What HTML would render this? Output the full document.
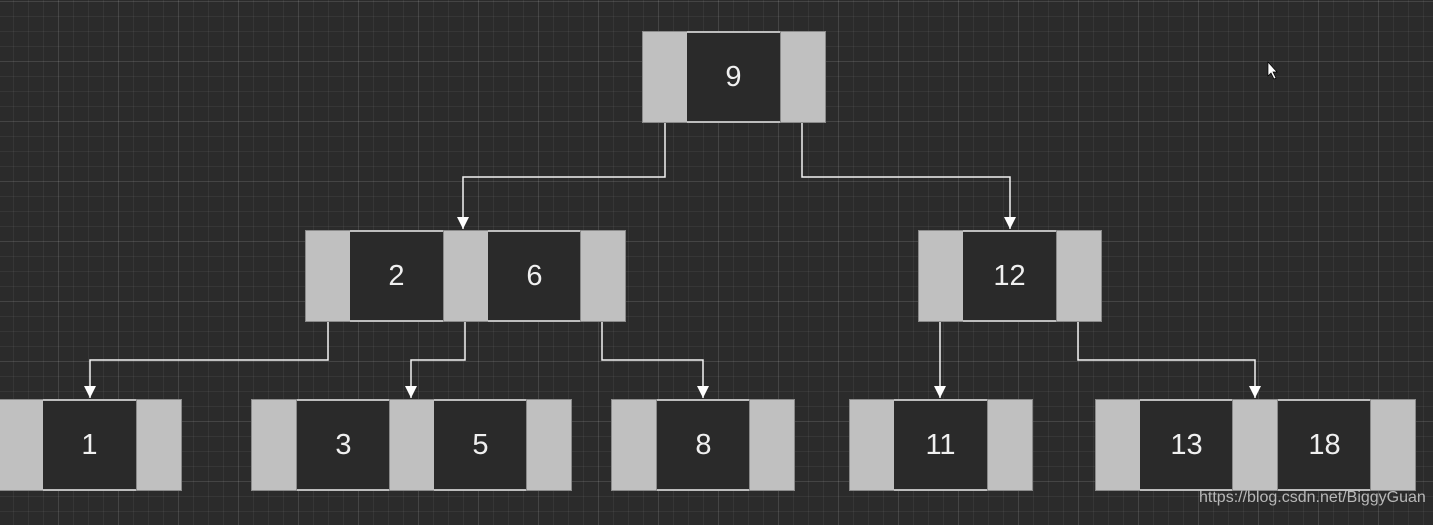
<!DOCTYPE html>
<html><head><style>
body{margin:0;width:1433px;height:525px;overflow:hidden;background:#2b2b2b;position:relative;font-family:"Liberation Sans",sans-serif;
background-image:linear-gradient(rgba(255,255,255,0.07) 1px,transparent 1px),linear-gradient(90deg,rgba(255,255,255,0.07) 1px,transparent 1px),linear-gradient(rgba(255,255,255,0.05) 1px,transparent 1px),linear-gradient(90deg,rgba(255,255,255,0.05) 1px,transparent 1px);
background-size:60px 60px,60px 60px,15px 15px,15px 15px;background-position:-2px 1px,-2px 1px,-2px 1px,-2px 1px}
.g,.d{position:absolute;box-sizing:border-box;height:92px}
.g{background:#c0c0c0;border:1px solid #8a8a8a;width:46px}
.d{background:#2a2a2a;border-top:2px solid #bdbdbd;border-bottom:2px solid #bdbdbd;width:93px;color:#f0f0f0;font-size:29px;text-align:center;line-height:88px}
svg{position:absolute;left:0;top:0}
.wm{position:absolute;left:1199px;top:489px;color:#d0d0d0;font-size:16px;opacity:.85;white-space:nowrap}
</style></head><body>
<svg width="1433" height="525">
<defs><marker id="b" viewBox="0 0 10 10" markerWidth="8" markerHeight="8" refX="10" refY="5" orient="auto"><path d="M0,0 L10,5 L0,10z" fill="#fff"/></marker></defs>
<g fill="none" stroke="#f2f2f2" stroke-width="1.5" marker-end="url(#b)">
<path d="M665,123V177H463V229"/>
<path d="M802,123V177H1010V229"/>
<path d="M328,322V360H90V398"/>
<path d="M465,322V360H411V398"/>
<path d="M602,322V360H703V398"/>
<path d="M940,322V398"/>
<path d="M1078,322V360H1255V398"/>
</g>
<path d="M1268,62 v14 l3,-3 l3,6 l2,-1 l-3,-6 h4z" fill="#fff" stroke="#000" stroke-width=".7"/>
</svg>
<div class="g" style="left:642px;top:31px"></div><div class="d" style="left:687px;top:31px">9</div><div class="g" style="left:780px;top:31px"></div>

<div class="g" style="left:305px;top:230px"></div><div class="d" style="left:350px;top:230px">2</div><div class="g" style="left:443px;top:230px"></div><div class="d" style="left:488px;top:230px">6</div><div class="g" style="left:580px;top:230px"></div>
<div class="g" style="left:918px;top:230px"></div><div class="d" style="left:963px;top:230px">12</div><div class="g" style="left:1056px;top:230px"></div>

<div class="g" style="left:-2px;top:399px"></div><div class="d" style="left:43px;top:399px">1</div><div class="g" style="left:136px;top:399px"></div>
<div class="g" style="left:251px;top:399px"></div><div class="d" style="left:297px;top:399px">3</div><div class="g" style="left:389px;top:399px"></div><div class="d" style="left:434px;top:399px">5</div><div class="g" style="left:526px;top:399px"></div>
<div class="g" style="left:611px;top:399px"></div><div class="d" style="left:657px;top:399px">8</div><div class="g" style="left:749px;top:399px"></div>
<div class="g" style="left:849px;top:399px"></div><div class="d" style="left:894px;top:399px">11</div><div class="g" style="left:987px;top:399px"></div>
<div class="g" style="left:1095px;top:399px"></div><div class="d" style="left:1140px;top:399px">13</div><div class="g" style="left:1232px;top:399px"></div><div class="d" style="left:1278px;top:399px">18</div><div class="g" style="left:1370px;top:399px"></div>
<div class="wm">https://blog.csdn.net/BiggyGuan</div>
</body></html>
